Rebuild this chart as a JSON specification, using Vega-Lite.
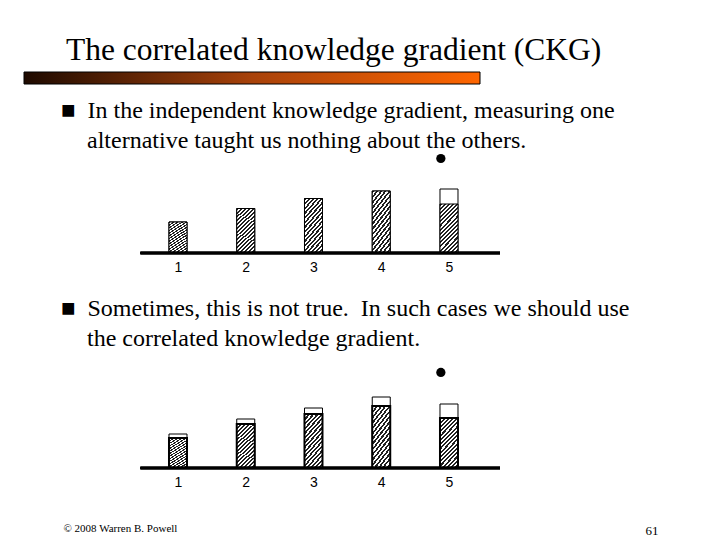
{
  "$schema": "https://vega.github.io/schema/vega-lite/v6.json",
  "background": "white",
  "padding": {"left": 23, "top": 35, "right": 5, "bottom": 3},
  "title": {
    "text": "The correlated knowledge gradient (CKG)",
    "anchor": "start",
    "frame": "group",
    "dx": 42,
    "offset": -20,
    "baseline": "alphabetic",
    "font": "Liberation Serif",
    "fontSize": 31.5,
    "fontWeight": "normal",
    "color": "black"
  },
  "bounds": "flush",
  "spacing": 10,
  "vconcat": [
    {
      "width": 456,
      "height": 12,
      "data": {"values": [{"start": 0, "end": 1}]},
      "mark": {
        "type": "rect",
        "stroke": "black",
        "strokeWidth": 1,
        "fill": {
          "gradient": "linear",
          "x1": 0, "y1": 0, "x2": 1, "y2": 0,
          "stops": [
            {"offset": 0, "color": "#1e0a00"},
            {"offset": 0.5, "color": "#a8420a"},
            {"offset": 1, "color": "#ff6600"}
          ]
        }
      },
      "encoding": {
        "x": {"field": "start", "type": "quantitative", "scale": {"domain": [0, 1], "nice": false, "padding": 0}, "axis": null},
        "x2": {"field": "end"}
      }
    },
    {
      "width": 476,
      "height": 159,
      "title": {
        "text": [
          "\u25a0\u00a0\u00a0In the independent knowledge gradient, measuring one",
          "\u200b\u00a0\u00a0\u00a0\u00a0\u200aalternative taught us nothing about the others."
        ],
        "anchor": "start",
        "frame": "group",
        "orient": "top",
        "offset": -78,
        "dx": 37,
        "baseline": "alphabetic",
        "lineHeight": 30,
        "font": "Liberation Serif",
        "fontSize": 24,
        "fontWeight": "normal",
        "color": "black"
      },
      "data": {
        "values": [
          {"alt": 1, "mean": 31, "upper": 31},
          {"alt": 2, "mean": 44.5, "upper": 44.5},
          {"alt": 3, "mean": 54.5, "upper": 54.5},
          {"alt": 4, "mean": 62, "upper": 62},
          {"alt": 5, "mean": 49, "upper": 64}
        ]
      },
      "layer": [
        {
          "mark": {"type": "bar", "orient": "vertical", "width": 18, "fill": "white", "stroke": "black", "strokeWidth": 1},
          "encoding": {
            "x": {"field": "alt", "type": "quantitative", "scale": {"domain": [-1.273, 5.753], "nice": false, "zero": false, "padding": 0},
              "axis": {"values": [1, 2, 3, 4, 5], "format": "d", "domain": false, "ticks": false, "grid": false, "labelFont": "Liberation Sans", "labelFontSize": 14, "labelColor": "black", "labelPadding": 7, "title": null}},
            "y": {"field": "upper", "type": "quantitative", "scale": {"domain": [0, 159], "nice": false}, "axis": null}
          }
        },
        {
          "mark": {"type": "bar", "orient": "vertical", "width": 18, "stroke": "black", "strokeWidth": 1},
          "encoding": {
            "x": {"field": "alt", "type": "quantitative"},
            "y": {"field": "mean", "type": "quantitative", "axis": null}
          }
        },
        {
          "data": {"values": [{"alt": 4.88, "obs": 94.5}]},
          "mark": {"type": "circle", "size": 85, "color": "black", "opacity": 1},
          "encoding": {
            "x": {"field": "alt", "type": "quantitative"},
            "y": {"field": "obs", "type": "quantitative", "axis": null}
          }
        },
        {
          "mark": {"type": "rule", "color": "black", "strokeWidth": 2.5},
          "encoding": {
            "x": {"datum": 0.446, "type": "quantitative"},
            "x2": {"datum": 5.753},
            "y": {"datum": 0, "type": "quantitative", "axis": null}
          }
        }
      ]
    },
    {
      "width": 476,
      "height": 205,
      "title": {
        "text": [
          "\u25a0\u00a0\u00a0Sometimes, this is not true.\u00a0 In such cases we should use",
          "\u200b\u00a0\u00a0\u00a0\u00a0\u200athe correlated knowledge gradient."
        ],
        "anchor": "start",
        "frame": "group",
        "orient": "top",
        "offset": -107,
        "dx": 37,
        "baseline": "alphabetic",
        "lineHeight": 30,
        "font": "Liberation Serif",
        "fontSize": 24,
        "fontWeight": "normal",
        "color": "black"
      },
      "data": {
        "values": [
          {"alt": 1, "mean": 30, "upper": 34},
          {"alt": 2, "mean": 44, "upper": 49},
          {"alt": 3, "mean": 54, "upper": 60},
          {"alt": 4, "mean": 62, "upper": 71},
          {"alt": 5, "mean": 50, "upper": 64}
        ]
      },
      "layer": [
        {
          "mark": {"type": "bar", "orient": "vertical", "width": 18, "fill": "white", "stroke": "black", "strokeWidth": 1},
          "encoding": {
            "x": {"field": "alt", "type": "quantitative", "scale": {"domain": [-1.273, 5.753], "nice": false, "zero": false, "padding": 0},
              "axis": {"values": [1, 2, 3, 4, 5], "format": "d", "domain": false, "ticks": false, "grid": false, "labelFont": "Liberation Sans", "labelFontSize": 14, "labelColor": "black", "labelPadding": 7,
                "title": "\u00a9 2008 Warren B. Powell", "titleX": 39, "titleY": 63, "titleAlign": "left", "titleAnchor": "start", "titleBaseline": "alphabetic", "titleFont": "Liberation Serif", "titleFontSize": 11, "titleFontWeight": "normal", "titleColor": "black"}},
            "y": {"field": "upper", "type": "quantitative", "scale": {"domain": [0, 205], "nice": false},
              "axis": {"orient": "right", "domain": false, "ticks": false, "labels": false, "grid": false,
                "title": "61", "titleAngle": 0, "titleX": 145, "titleY": 271, "titleAlign": "left", "titleBaseline": "alphabetic", "titleFont": "Liberation Serif", "titleFontSize": 13, "titleFontWeight": "normal", "titleColor": "black"}}
          }
        },
        {
          "mark": {"type": "bar", "orient": "vertical", "width": 18, "stroke": "black", "strokeWidth": 2},
          "encoding": {
            "x": {"field": "alt", "type": "quantitative"},
            "y": {"field": "mean", "type": "quantitative"}
          }
        },
        {
          "data": {"values": [{"alt": 4.88, "obs": 95.6}]},
          "mark": {"type": "circle", "size": 85, "color": "black", "opacity": 1},
          "encoding": {
            "x": {"field": "alt", "type": "quantitative"},
            "y": {"field": "obs", "type": "quantitative"}
          }
        },
        {
          "mark": {"type": "rule", "color": "black", "strokeWidth": 2.5},
          "encoding": {
            "x": {"datum": 0.446, "type": "quantitative"},
            "x2": {"datum": 5.753},
            "y": {"datum": 0, "type": "quantitative"}
          }
        }
      ]
    }
  ],
  "config": {
    "view": {"stroke": null},
    "bar": {
      "fill": {
        "gradient": "linear",
        "x1": 0, "y1": 0, "x2": 0.45, "y2": 1.2,
        "stops": [
          {"offset": 0, "color": "#222"}, {"offset": 0.03125, "color": "#222"}, {"offset": 0.03125, "color": "#fff"}, {"offset": 0.0625, "color": "#fff"},
          {"offset": 0.0625, "color": "#222"}, {"offset": 0.09375, "color": "#222"}, {"offset": 0.09375, "color": "#fff"}, {"offset": 0.125, "color": "#fff"},
          {"offset": 0.125, "color": "#222"}, {"offset": 0.15625, "color": "#222"}, {"offset": 0.15625, "color": "#fff"}, {"offset": 0.1875, "color": "#fff"},
          {"offset": 0.1875, "color": "#222"}, {"offset": 0.21875, "color": "#222"}, {"offset": 0.21875, "color": "#fff"}, {"offset": 0.25, "color": "#fff"},
          {"offset": 0.25, "color": "#222"}, {"offset": 0.28125, "color": "#222"}, {"offset": 0.28125, "color": "#fff"}, {"offset": 0.3125, "color": "#fff"},
          {"offset": 0.3125, "color": "#222"}, {"offset": 0.34375, "color": "#222"}, {"offset": 0.34375, "color": "#fff"}, {"offset": 0.375, "color": "#fff"},
          {"offset": 0.375, "color": "#222"}, {"offset": 0.40625, "color": "#222"}, {"offset": 0.40625, "color": "#fff"}, {"offset": 0.4375, "color": "#fff"},
          {"offset": 0.4375, "color": "#222"}, {"offset": 0.46875, "color": "#222"}, {"offset": 0.46875, "color": "#fff"}, {"offset": 0.5, "color": "#fff"},
          {"offset": 0.5, "color": "#222"}, {"offset": 0.53125, "color": "#222"}, {"offset": 0.53125, "color": "#fff"}, {"offset": 0.5625, "color": "#fff"},
          {"offset": 0.5625, "color": "#222"}, {"offset": 0.59375, "color": "#222"}, {"offset": 0.59375, "color": "#fff"}, {"offset": 0.625, "color": "#fff"},
          {"offset": 0.625, "color": "#222"}, {"offset": 0.65625, "color": "#222"}, {"offset": 0.65625, "color": "#fff"}, {"offset": 0.6875, "color": "#fff"},
          {"offset": 0.6875, "color": "#222"}, {"offset": 0.71875, "color": "#222"}, {"offset": 0.71875, "color": "#fff"}, {"offset": 0.75, "color": "#fff"},
          {"offset": 0.75, "color": "#222"}, {"offset": 0.78125, "color": "#222"}, {"offset": 0.78125, "color": "#fff"}, {"offset": 0.8125, "color": "#fff"},
          {"offset": 0.8125, "color": "#222"}, {"offset": 0.84375, "color": "#222"}, {"offset": 0.84375, "color": "#fff"}, {"offset": 0.875, "color": "#fff"},
          {"offset": 0.875, "color": "#222"}, {"offset": 0.90625, "color": "#222"}, {"offset": 0.90625, "color": "#fff"}, {"offset": 0.9375, "color": "#fff"},
          {"offset": 0.9375, "color": "#222"}, {"offset": 0.96875, "color": "#222"}, {"offset": 0.96875, "color": "#fff"}, {"offset": 1, "color": "#fff"}
        ]
      }
    }
  }
}
